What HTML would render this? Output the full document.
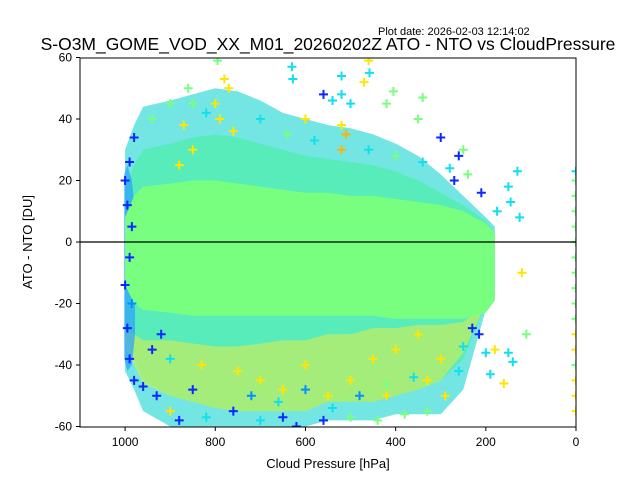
<!DOCTYPE html>
<html><head><meta charset="utf-8"><style>
body{margin:0;background:#fff;}
svg{display:block;font-family:"Liberation Sans","DejaVu Sans",sans-serif;}
</style></head><body>
<svg id="chart" width="640" height="480">
<text x="378" y="35" font-size="11">Plot date: 2026-02-03 12:14:02</text>
<text x="328" y="50" font-size="17.5" text-anchor="middle">S-O3M_GOME_VOD_XX_M01_20260202Z ATO - NTO vs CloudPressure</text>
<defs><clipPath id="clip"><rect x="80" y="58" width="496" height="369"/></clipPath></defs>
<g id="plot" clip-path="url(#clip)"></g>
<g id="axes"></g>
<text x="328" y="468" font-size="13" text-anchor="middle">Cloud Pressure [hPa]</text>
<text transform="translate(32,242) rotate(-90)" font-size="13" text-anchor="middle">ATO - NTO [DU]</text>
</svg>
<script>
const pBins = [1000, 980, 960, 900, 850, 800, 750, 700, 650, 600, 550, 500, 450, 400, 350, 300, 250, 200, 180];
const outerTop = [30, 38, 44, 46, 48, 50, 49, 46, 42, 40, 38, 37, 35, 32, 28, 22, 15, 8, 5];
const outerBot = [-42, -48, -55, -60, -60, -60, -60, -60, -60, -60, -58, -58, -58, -56, -56, -56, -48, -22, -18];
const midTop = [18, 25, 30, 32, 34, 35, 34, 32, 30, 28, 27, 26, 25, 23, 20, 16, 12, 7, 3];
const midBot = [-30, -38, -45, -50, -52, -54, -55, -55, -55, -55, -52, -52, -52, -50, -48, -45, -38, -20, -16];
const yelTop = [-28, -30, -32, -32, -33, -34, -34, -33, -32, -32, -30, -30, -28, -28, -27, -27, -26, -20, -16];
const yelBot = [-34, -40, -46, -50, -52, -54, -55, -55, -55, -55, -52, -52, -52, -50, -48, -45, -36, -20, -16];
const coreTop = [8, 15, 18, 19, 20, 20, 19, 18, 17, 16, 16, 15, 15, 14, 13, 12, 10, 6, 3];
const coreBot = [-14, -20, -22, -23, -24, -24, -24, -24, -24, -24, -24, -24, -24, -25, -25, -25, -25, -23, -19];
const edgeP = [1002, 995, 985, 978];
const edgeTop = [22, 25, 20, 10];
const edgeBot = [-38, -42, -40, -30];
const outP = [795,630,628,520,460,458,470,860,850,780,770,560,540,520,500,405,340,900,940,980,990,1000,995,1000,995,990,980,960,930,900,880,820,760,700,650,620,560,500,440,380,330,290,260,250,230,215,200,190,180,160,140,150,110,120,260,240,210,150,145,130,125,175,300,250,350,420,270,800,790,600,520,510,880,850,830,700,600,500,450,400,350,300,330,420,550,650,750,900,920,940,850,985,990,985,870,820,760,700,640,580,520,460,400,340,280,720,660,600,540,480,420,360];
const outV = [59,57,53,54,59,55,52,50,45,53,50,48,46,48,45,49,47,45,40,34,26,20,12,-14,-28,-38,-45,-47,-50,-55,-58,-57,-55,-58,-57,-60,-58,-57,-58,-56,-55,-50,-42,-34,-28,-30,-36,-43,-35,-46,-39,-36,-30,-10,28,22,16,18,13,23,8,10,34,30,40,45,20,45,40,40,30,35,25,30,-40,-45,-40,-45,-38,-35,-30,-38,-45,-50,-50,-48,-42,-38,-30,-35,-48,5,-5,-20,38,42,36,40,35,33,38,30,28,26,24,-50,-52,-48,-54,-50,-46,-44];
const outC = ['g','c','c','c','y','c','y','g','g','y','y','b','c','c','c','g','g','g','g','b','b','b','b','b','b','b','b','b','b','y','b','c','b','c','b','b','b','g','g','g','g','y','c','c','b','b','c','c','y','y','c','c','g','y','b','g','b','c','c','c','c','c','b','g','g','g','b','y','y','y','o','o','y','y','y','y','y','y','y','y','y','y','y','y','y','y','y','c','b','b','b','b','b','a','y','c','y','c','g','c','y','c','g','c','c','a','c','a','c','a','g','c'];
const zeroVals = [23,20,15,10,5,0,-5,-10,-15,-20,-25,-30,-35,-40,-45,-50,-55];
const zeroC = ['c','g','g','g','g','g','g','g','g','g','g','y','y','g','y','y','y'];
const xTicks = [1000,800,600,400,200,0];
const yTicks = [60,40,20,0,-20,-40,-60];

const COL = {b:'#0a28ff',a:'#0090ff',c:'#10e0ee',g:'#78ff80',y:'#ffe600',o:'#ffb400'};
const X = p => 576 - p*0.4509;
const Y = v => 242 - v*3.075;
const NS = 'http://www.w3.org/2000/svg';
const plot = document.getElementById('plot');
const axes = document.getElementById('axes');
function band(ps, top, bot, fill, op, name){
  let pts = ps.map((p,i)=>X(p)+','+Y(top[i]));
  for(let i=ps.length-1;i>=0;i--) pts.push(X(ps[i])+','+Y(bot[i]));
  const el = document.createElementNS(NS,'polygon');
  el.setAttribute('points', pts.join(' '));
  el.setAttribute('fill', fill);
  el.setAttribute('opacity', op);
  
  
  plot.appendChild(el);
}
band(pBins, outerTop, outerBot, '#38dcd8', 0.7, 'outer-scatter-band');
band(pBins, midTop, midBot, '#56ecb8', 0.95, 'mid-scatter-band');
band(pBins, yelTop, yelBot, '#d8ee50', 0.6, 'yellow-scatter-band');
band(edgeP, edgeTop, edgeBot, '#2aa0ff', 0.7, 'blue-edge-band');
band(pBins, coreTop, coreBot, '#78ff80', 1, 'core-scatter-band');
function marker(p, v, c){
  const x = X(p), y = Y(v);
  const el = document.createElementNS(NS,'path');
  el.setAttribute('d', `M${x-4.5},${y}H${x+4.5}M${x},${y-4.5}V${y+4.5}`);
  el.setAttribute('stroke', COL[c]);
  el.setAttribute('stroke-width', '2');
  
  
  plot.appendChild(el);
}
outP.forEach((p,i)=>marker(p, outV[i], outC[i]));
zeroVals.forEach((v,i)=>marker(0, v, zeroC[i]));
const zl = document.createElementNS(NS,'line');
zl.setAttribute('x1',80); zl.setAttribute('x2',576); zl.setAttribute('y1',Y(0)); zl.setAttribute('y2',Y(0));
zl.setAttribute('stroke','#000'); zl.setAttribute('stroke-width','1.2');


plot.appendChild(zl);
const fr = document.createElementNS(NS,'rect');
fr.setAttribute('x',80); fr.setAttribute('y',58); fr.setAttribute('width',496); fr.setAttribute('height',369);
fr.setAttribute('fill','none'); fr.setAttribute('stroke','#000'); fr.setAttribute('stroke-width','1');


axes.appendChild(fr);
xTicks.forEach(t=>{
  const x = X(t);
  const l = document.createElementNS(NS,'line');
  l.setAttribute('x1',x); l.setAttribute('x2',x); l.setAttribute('y1',427); l.setAttribute('y2',431);
  l.setAttribute('stroke','#000');
  
  
  axes.appendChild(l);
  const tx = document.createElementNS(NS,'text');
  tx.setAttribute('x',x); tx.setAttribute('y',446); tx.setAttribute('font-size','12'); tx.setAttribute('text-anchor','middle');
  tx.textContent = t;
  
  
  axes.appendChild(tx);
});
yTicks.forEach(t=>{
  const y = Y(t);
  const l = document.createElementNS(NS,'line');
  l.setAttribute('x1',76); l.setAttribute('x2',80); l.setAttribute('y1',y); l.setAttribute('y2',y);
  l.setAttribute('stroke','#000');
  
  
  axes.appendChild(l);
  const tx = document.createElementNS(NS,'text');
  tx.setAttribute('x',72); tx.setAttribute('y',y+4); tx.setAttribute('font-size','12'); tx.setAttribute('text-anchor','end');
  tx.textContent = t;
  
  
  axes.appendChild(tx);
});
</script>
</body></html>
